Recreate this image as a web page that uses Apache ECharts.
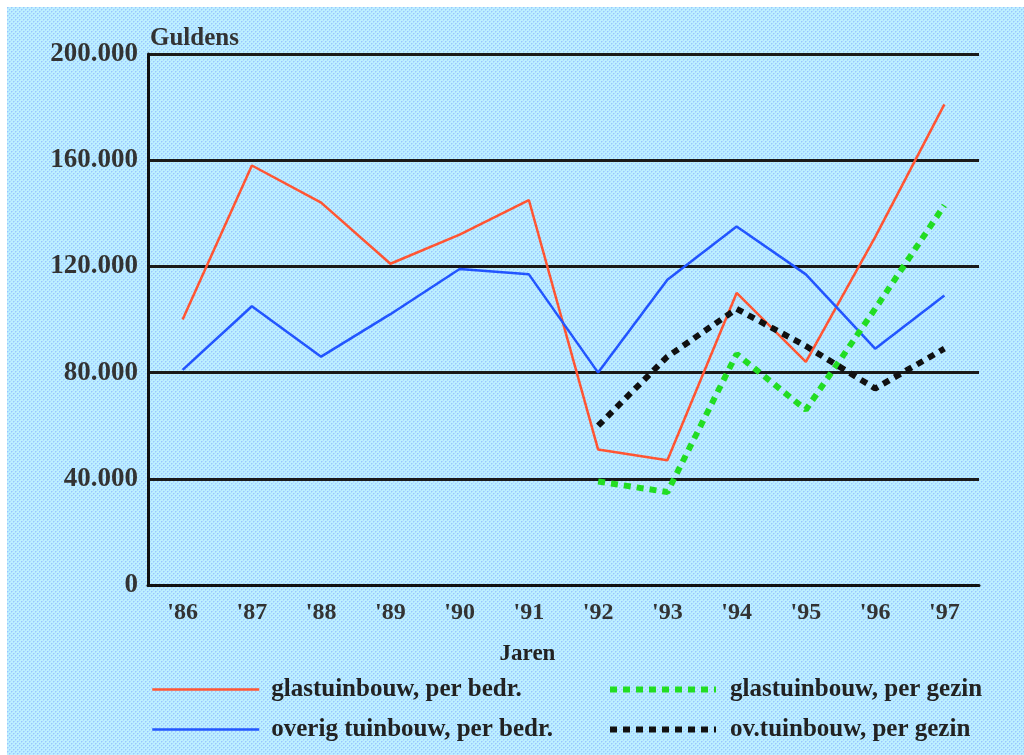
<!DOCTYPE html>
<html>
<head>
<meta charset="utf-8">
<script src="https://cdn.jsdelivr.net/npm/echarts@6/dist/echarts.min.js"></script>
<style>
  html, body { margin: 0; padding: 0; background: #fff; }
  #chart { position: absolute; left: 7px; top: 7px; width: 1017px; height: 748px; }
</style>
</head>
<body>
<div id="chart"></div>
<script>
const years = ["'86", "'87", "'88", "'89", "'90", "'91", "'92", "'93", "'94", "'95", "'96", "'97"];
const glasPerBedr = [100000, 158000, 144000, 121000, 132000, 145000, 51000, 47000, 110000, 84000, 131000, 181000];
const overigPerBedr = [81000, 105000, 86000, 102000, 119000, 117000, 80000, 115000, 135000, 117000, 89000, 109000];
const glasPerGezin = [null, null, null, null, null, null, 39000, 35000, 87000, 66000, 104000, 143000];
const ovPerGezin = [null, null, null, null, null, null, 60000, 86000, 104000, 90000, 74000, 89000];
const seriesNames = ['glastuinbouw, per bedr.', 'overig tuinbouw, per bedr.', 'glastuinbouw, per gezin', 'ov.tuinbouw, per gezin'];

// dotted light blue background, like the old gif
function makePattern() {
  const c = document.createElement('canvas');
  c.width = 4; c.height = 4;
  const g = c.getContext('2d');
  g.fillStyle = '#bdf0ff';
  g.fillRect(0, 0, 4, 4);
  g.fillStyle = '#98c6ff';
  g.fillRect(0, 0, 1, 1);
  g.fillRect(2, 2, 1, 1);
  g.fillStyle = '#acdaff';
  g.fillRect(1, 0, 1, 1);
  g.fillRect(3, 2, 1, 1);
  g.fillRect(0, 1, 1, 1);
  g.fillRect(2, 3, 1, 1);
  return c;
}

const serif = '"Liberation Serif", "DejaVu Serif", serif';
const chart = echarts.init(document.getElementById('chart'));

function dots(color) {
  return { color: color, width: 6, type: [7, 6], cap: 'butt' };
}

const legendText = { fontFamily: serif, fontSize: 25, fontWeight: 'bold', color: '#222', padding: [0, 0, 0, 7] };

chart.setOption({
  backgroundColor: { image: makePattern(), repeat: 'repeat' },
  animation: false,
  textStyle: { fontFamily: serif },
  grid: { left: 141, right: 45, top: 47, bottom: 170 },
  xAxis: {
    type: 'category',
    data: years,
    boundaryGap: true,
    name: 'Jaren',
    nameLocation: 'middle',
    nameGap: 58,
    nameTextStyle: { fontFamily: serif, fontSize: 23, fontWeight: 'bold', color: '#222', padding: [0, 72, 0, 0] },
    axisLine: { lineStyle: { color: '#111', width: 3 } },
    axisTick: { inside: true, alignWithLabel: true, length: 6, lineStyle: { color: '#111', width: 2 } },
    axisLabel: { fontFamily: serif, fontSize: 24, fontWeight: 'bold', color: '#333', margin: 16 }
  },
  yAxis: {
    type: 'value',
    min: 0,
    max: 200000,
    interval: 40000,
    name: 'Guldens',
    nameLocation: 'end',
    nameGap: 3,
    nameTextStyle: { fontFamily: serif, fontSize: 25, fontWeight: 'bold', color: '#333', align: 'left', padding: [0, 0, 0, 2] },
    axisLine: { show: true, lineStyle: { color: '#111', width: 3 } },
    axisTick: { show: false },
    axisLabel: {
      fontFamily: serif, fontSize: 27, fontWeight: 'bold', color: '#333', margin: 10,
      formatter: function (v) { return v === 0 ? '0' : (v / 1000) + '.000'; }
    },
    splitLine: { lineStyle: { color: '#1a1a1a', width: 3 } }
  },
  legend: [
    {
      data: [seriesNames[0], seriesNames[1]],
      orient: 'vertical',
      left: 144, top: 670, padding: 0,
      itemWidth: 107, itemHeight: 14, itemGap: 15,
      itemStyle: { opacity: 0 },
      lineStyle: { width: 2.5 },
      textStyle: legendText
    },
    {
      data: [seriesNames[2], seriesNames[3]],
      orient: 'vertical',
      left: 600, top: 670, padding: 0,
      itemWidth: 106, itemHeight: 14, itemGap: 15,
      itemStyle: { opacity: 0 },
      lineStyle: { width: 6, type: [7, 6], cap: 'butt' },
      textStyle: Object.assign({}, legendText, { padding: [0, 0, 0, 9] })
    }
  ],
  series: [
    {
      name: seriesNames[0], type: 'line', data: glasPerBedr, symbol: 'none',
      lineStyle: { color: '#ff5533', width: 2.5 }, itemStyle: { color: '#ff5533' }
    },
    {
      name: seriesNames[1], type: 'line', data: overigPerBedr, symbol: 'none',
      lineStyle: { color: '#2255ff', width: 2.5 }, itemStyle: { color: '#2255ff' }
    },
    {
      name: seriesNames[2], type: 'line', data: glasPerGezin, symbol: 'none',
      lineStyle: dots('#22dd22'), itemStyle: { color: '#22dd22' }
    },
    {
      name: seriesNames[3], type: 'line', data: ovPerGezin, symbol: 'none',
      lineStyle: dots('#111111'), itemStyle: { color: '#111111' }
    }
  ]
});
</script>
</body>
</html>
